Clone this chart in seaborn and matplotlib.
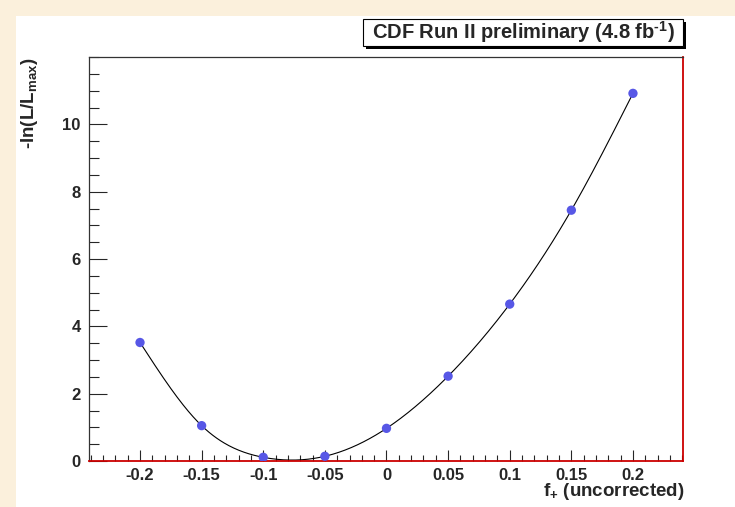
import numpy as np
import pandas as pd
import matplotlib
matplotlib.use("Agg")
import matplotlib.pyplot as plt
from matplotlib.ticker import MultipleLocator
from matplotlib.patches import Rectangle
import seaborn as sns

# values
F_PLUS = [-0.2, -0.15, -0.1, -0.05, 0.0, 0.05, 0.1, 0.15, 0.2]
NLL = [3.52, 1.05, 0.11, 0.14, 0.97, 2.52, 4.66, 7.45, 10.92]

X_TICKS = [-0.2, -0.15, -0.1, -0.05, 0.0, 0.05, 0.1, 0.15, 0.2]
X_TICK_LABELS = ["-0.2", "-0.15", "-0.1", "-0.05", "0", "0.05", "0.1", "0.15", "0.2"]
Y_TICKS = [0, 2, 4, 6, 8, 10]

MARKER_COLOR = "#5757e6"
CREAM = "#fbf0dc"
W, H = 735, 507


def natural_spline(x, y, num=400):
    # smooth line through the points, like ROOT's "C" draw option
    x = np.asarray(x, float)
    y = np.asarray(y, float)
    n = len(x)
    h = np.diff(x)
    A = np.zeros((n, n))
    b = np.zeros(n)
    A[0, 0] = A[-1, -1] = 1.0
    for i in range(1, n - 1):
        A[i, i - 1] = h[i - 1]
        A[i, i] = 2 * (h[i - 1] + h[i])
        A[i, i + 1] = h[i]
        b[i] = 6 * ((y[i + 1] - y[i]) / h[i] - (y[i] - y[i - 1]) / h[i - 1])
    m = np.linalg.solve(A, b)
    xs = np.linspace(x[0], x[-1], num)
    idx = np.clip(np.searchsorted(x, xs) - 1, 0, n - 2)
    x0, x1 = x[idx], x[idx + 1]
    hh = x1 - x0
    t0 = x1 - xs
    t1 = xs - x0
    ys = (m[idx] * t0 ** 3 / (6 * hh) + m[idx + 1] * t1 ** 3 / (6 * hh)
          + (y[idx] / hh - m[idx] * hh / 6) * t0
          + (y[idx + 1] / hh - m[idx + 1] * hh / 6) * t1)
    return xs, ys


sns.set_style("white")
plt.rcParams["font.family"] = ["Liberation Sans", "DejaVu Sans"]
plt.rcParams["font.weight"] = "bold"
plt.rcParams["mathtext.fontset"] = "custom"
plt.rcParams["mathtext.rm"] = "Liberation Sans:bold"
plt.rcParams["mathtext.it"] = "Liberation Sans:bold"
plt.rcParams["mathtext.bf"] = "Liberation Sans:bold"

fig = plt.figure(figsize=(W / 100, H / 100), dpi=100)
fig.patch.set_facecolor(CREAM)
fig.patches.append(Rectangle((16 / W, 0), 1 - 16 / W, 1 - 16 / H,
                             transform=fig.transFigure, facecolor="white",
                             edgecolor="none", zorder=-5))

ax = fig.add_axes([89 / W, 46 / H, (683 - 89) / W, (461 - 57) / H])
ax.set_facecolor("none")
ax.set_zorder(1)

points_df = pd.DataFrame({"f": F_PLUS, "nll": NLL})
xs, ys = natural_spline(F_PLUS, NLL)
curve_df = pd.DataFrame({"f": xs, "nll": ys})

sns.lineplot(data=curve_df, x="f", y="nll", sort=False, color="black",
             linewidth=0.8, ax=ax, zorder=2)
sns.scatterplot(data=points_df, x="f", y="nll", color=MARKER_COLOR, s=45,
                edgecolor="none", ax=ax, zorder=3)

ax.set_xlim(-0.2414, 0.2406)
ax.set_ylim(0, 12)

ax.set_xticks(X_TICKS)
ax.set_xticklabels(X_TICK_LABELS)
ax.xaxis.set_minor_locator(MultipleLocator(0.01))
ax.set_yticks(Y_TICKS)
ax.set_yticklabels([str(v) for v in Y_TICKS])
ax.yaxis.set_minor_locator(MultipleLocator(0.5))

ax.tick_params(axis="x", which="major", direction="in", length=8, width=0.8,
               labelsize=12, pad=5, bottom=True, top=False)
ax.tick_params(axis="x", which="minor", direction="in", length=4.3, width=0.8,
               bottom=True, top=False)
ax.tick_params(axis="y", which="major", direction="in", length=13, width=0.8,
               labelsize=12, pad=6, left=True, right=False)
ax.tick_params(axis="y", which="minor", direction="in", length=7, width=0.8,
               left=True, right=False)
for lab in ax.get_xticklabels() + ax.get_yticklabels():
    lab.set_fontweight("bold")

for side in ["left", "top"]:
    ax.spines[side].set_color("#333333")
    ax.spines[side].set_linewidth(0.9)
for side in ["right", "bottom"]:
    ax.spines[side].set_color("#cc0000")
    ax.spines[side].set_linewidth(1.3)

ax.set_xlabel("")
ax.set_ylabel("")

fig.text(30 / W, 1 - 58 / H, r"-ln(L/L$_{\mathregular{max}}$)", rotation=90,
         ha="center", va="top", fontsize=13.5, fontweight="bold")
fig.text(685 / W, 1 - 492 / H, r"f$_{\mathregular{+}}$ (uncorrected)",
         ha="right", va="center", fontsize=13.5, fontweight="bold")

# title box with shadow
bx0, bx1, by0, by1 = 363, 683, 19, 46
fig.patches.append(Rectangle(((bx0 + 3) / W, 1 - (by1 + 3) / H),
                             (bx1 - bx0) / W, (by1 - by0) / H,
                             transform=fig.transFigure, facecolor="black",
                             edgecolor="none", zorder=5))
fig.patches.append(Rectangle((bx0 / W, 1 - by1 / H), (bx1 - bx0) / W,
                             (by1 - by0) / H, transform=fig.transFigure,
                             facecolor="white", edgecolor="black",
                             linewidth=0.8, zorder=6))
fig.text((bx0 + bx1) / 2 / W, 1 - (by0 + by1) / 2 / H,
         r"CDF Run II preliminary (4.8 fb$^{\text{-1}}$)",
         ha="center", va="center", fontsize=14.5, fontweight="bold", zorder=7)

fig.savefig("out.png", dpi=100, facecolor=fig.get_facecolor())
